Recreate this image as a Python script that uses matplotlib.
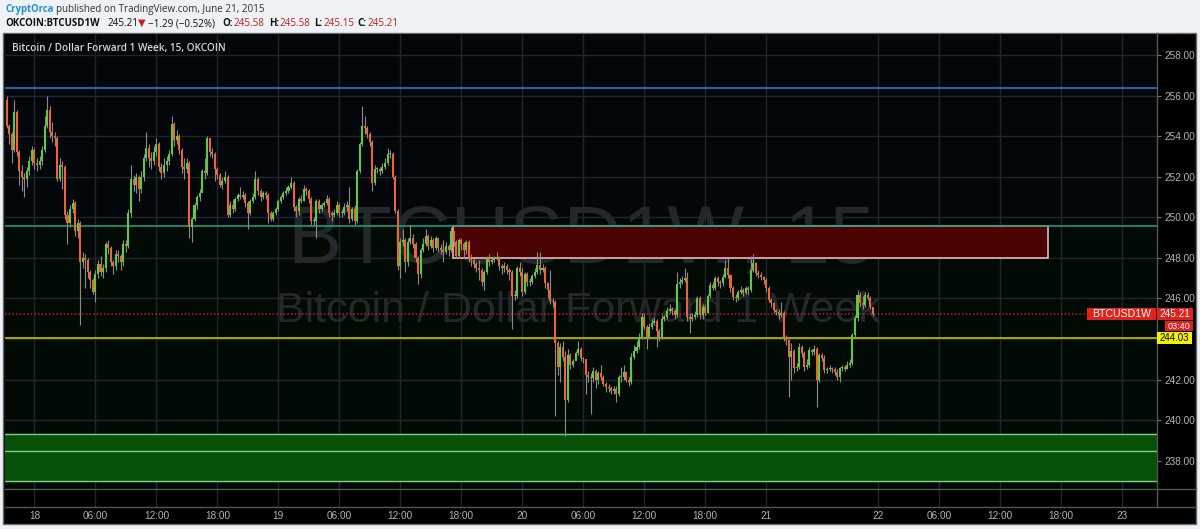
import matplotlib
matplotlib.use("Agg")
import matplotlib.pyplot as plt
from matplotlib.patches import Rectangle
import numpy as np

# ---------------- data ----------------
first_bar = -11            # 15-minute bars counted from June 18, 00:00
first_open = 255.8
closes = [
    254.5, 254.1, 253.3, 255.2, 253.2, 252.3, 252.0, 251.9, 252.3, 252.8,
    253.3, 252.7, 252.6, 252.8, 253.3, 254.5, 255.3, 254.2, 254.0, 253.9,
    251.9, 252.6, 252.5, 250.1, 249.7, 250.4, 250.7, 249.3, 249.7, 247.8,
    248.0, 247.9, 247.3, 246.9, 246.3, 247.2, 247.7, 247.3, 247.5, 248.7,
    248.5, 247.8, 247.6, 248.2, 248.1, 247.8, 248.7, 248.6, 250.2, 251.9,
    251.6, 252.0, 251.4, 252.0, 252.9, 253.4, 252.9, 252.8, 253.2, 253.6,
    252.5, 252.2, 252.6, 252.8, 253.1, 254.6, 253.8, 254.0, 253.3, 252.5,
    252.4, 252.7, 249.5, 249.9, 250.6, 251.0, 251.2, 252.3, 252.2, 253.9,
    253.2, 253.1, 252.4, 252.1, 251.6, 251.8, 252.0, 250.1, 250.6, 250.4,
    250.9, 251.1, 251.0, 251.1, 250.7, 250.2, 250.8, 251.0, 251.9, 251.3,
    251.0, 251.2, 251.1, 250.2, 249.9, 250.2, 250.4, 250.8, 251.0, 251.2,
    251.3, 251.5, 251.7, 250.5, 250.3, 250.9, 250.8, 251.4, 251.3, 250.9,
    249.8, 249.8, 250.8, 250.4, 250.6, 250.7, 250.9, 250.2, 250.1, 250.2,
    250.6, 250.2, 250.2, 250.5, 250.6, 249.9, 250.4, 249.8, 252.3, 253.6,
    254.5, 254.4, 254.1, 253.7, 251.7, 252.4, 252.4, 252.3, 252.5, 252.7,
    253.1, 253.1, 252.0, 250.3, 247.6, 248.8, 248.9, 247.8, 248.8, 249.0,
    248.7, 248.0, 247.2, 248.4, 248.7, 249.1, 248.6, 248.9, 248.5, 249.0,
    248.5, 248.4, 248.3, 248.6, 248.4, 249.3, 248.8, 248.1, 248.9, 248.7,
    248.4, 248.8, 248.0, 247.9, 247.7, 247.5, 247.4, 246.8, 247.3, 248.0,
    247.8, 247.9, 248.0, 248.0, 247.6, 247.5, 247.6, 247.4, 247.3, 246.1,
    246.1, 247.5, 247.3, 246.3, 247.2, 246.8, 246.8, 247.1, 247.3, 247.65,
    247.4, 247.5, 246.75, 246.4, 245.85, 245.8, 243.8, 242.6, 243.6, 243.1,
    241.0, 243.2, 242.7, 242.9, 243.3, 243.5, 243.05, 243.0, 242.2, 242.1,
    242.06, 242.4, 242.0, 242.3, 242.14, 241.8, 241.65, 241.6, 241.45, 241.55,
    241.3, 242.14, 242.1, 242.35, 242.0, 241.9, 243.1, 243.4, 243.6, 244.1,
    245.1, 244.6, 244.1, 244.6, 244.8, 244.9, 244.4, 244.1, 245.0, 245.1,
    245.4, 245.5, 245.4, 245.2, 246.7, 246.8, 246.9, 247.0, 245.1, 245.0,
    245.1, 245.2, 246.0, 245.2, 245.6, 245.3, 246.1, 246.66, 246.5, 247.0,
    246.8, 246.74, 247.07, 247.5, 247.15, 246.5, 246.09, 246.0, 246.33, 246.41,
    246.25, 246.5, 246.4, 247.4, 247.73, 247.24, 247.15, 247.07, 246.91, 246.5,
    245.92, 245.75, 245.43, 245.35, 245.2, 245.3, 244.11, 243.95, 243.13, 243.4,
    242.55, 242.6, 243.62, 243.3, 242.63, 242.7, 243.46, 243.35, 243.5, 241.98,
    243.21, 243.05, 242.47, 242.5, 242.55, 242.5, 242.39, 242.14, 242.55, 242.6,
    242.5, 242.72, 242.8, 244.2, 245.02, 246.17, 245.76, 245.67, 246.17, 246.0,
    245.58, 245.21,
]
highs = [
    256.0, 254.6, 254.2, 255.8, 255.3, 253.3, 252.6, 252.2, 252.5, 253.0,
    253.5, 253.4, 252.9, 253.0, 253.5, 255.0, 256.0, 255.5, 254.7, 254.2,
    254.0, 252.9, 252.8, 252.6, 250.3, 250.6, 250.9, 250.8, 249.9, 249.8,
    248.3, 248.2, 248.0, 247.4, 247.0, 247.4, 247.9, 248.1, 247.7, 248.8,
    248.9, 248.6, 247.9, 248.4, 248.4, 248.2, 248.9, 248.9, 250.4, 252.6,
    252.1, 252.2, 252.1, 252.3, 253.1, 254.2, 253.6, 253.2, 253.5, 253.9,
    253.7, 252.7, 252.9, 253.0, 253.3, 255.0, 254.7, 254.3, 254.1, 253.4,
    252.9, 252.9, 252.8, 250.0, 250.7, 251.1, 251.4, 252.4, 252.9, 254.0,
    253.9, 253.4, 253.2, 252.5, 252.2, 252.0, 252.3, 252.1, 250.8, 250.9,
    251.0, 251.2, 251.5, 251.3, 251.2, 250.8, 250.9, 251.2, 252.3, 252.0,
    251.4, 251.3, 251.3, 251.2, 250.3, 250.3, 250.5, 250.9, 251.1, 251.3,
    251.5, 251.6, 252.0, 251.8, 250.6, 251.0, 251.1, 251.6, 251.5, 251.4,
    251.0, 250.0, 250.9, 250.9, 250.7, 250.8, 251.1, 251.0, 250.3, 250.4,
    250.8, 250.7, 250.4, 250.7, 250.8, 251.5, 250.5, 250.6, 252.4, 253.7,
    255.5, 255.0, 254.5, 254.2, 253.8, 252.6, 252.5, 252.5, 252.7, 252.9,
    253.4, 253.3, 253.2, 252.1, 250.4, 249.0, 249.4, 249.0, 249.0, 249.6,
    249.2, 248.8, 248.1, 248.5, 249.0, 249.4, 249.2, 249.1, 249.0, 249.1,
    249.0, 248.7, 248.9, 248.8, 248.7, 249.5, 249.3, 248.9, 249.0, 249.0,
    248.8, 248.9, 248.9, 248.2, 248.0, 247.8, 247.9, 247.5, 247.4, 248.1,
    248.2, 248.0, 248.1, 248.3, 248.1, 247.7, 247.8, 247.7, 247.5, 247.4,
    246.4, 247.6, 247.8, 247.5, 247.3, 247.3, 247.0, 247.2, 247.5, 248.3,
    248.3, 247.7, 247.6, 246.8, 247.4, 246.0, 245.9, 243.9, 243.8, 243.9,
    243.4, 243.5, 243.3, 243.0, 243.4, 243.9, 243.6, 243.1, 243.0, 242.4,
    242.3, 242.6, 242.5, 242.4, 242.7, 242.2, 241.9, 241.8, 241.7, 241.7,
    241.7, 242.2, 242.6, 242.7, 242.4, 242.1, 243.3, 243.7, 243.9, 244.3,
    245.3, 245.3, 244.7, 244.8, 245.0, 245.1, 245.0, 244.5, 245.2, 245.2,
    245.6, 245.7, 245.6, 245.5, 247.3, 247.0, 247.1, 247.5, 247.3, 245.3,
    245.3, 245.4, 246.1, 246.1, 245.7, 245.7, 246.2, 246.8, 246.8, 247.1,
    247.1, 246.9, 247.2, 247.9, 248.0, 247.2, 246.6, 246.2, 246.4, 246.6,
    246.5, 246.6, 246.6, 248.1, 248.2, 247.8, 247.4, 247.3, 247.1, 247.0,
    246.6, 246.0, 245.8, 245.5, 245.5, 245.8, 245.4, 244.2, 244.0, 243.8,
    243.5, 242.8, 243.8, 243.7, 243.4, 243.0, 243.6, 243.5, 243.7, 243.6,
    243.3, 243.3, 243.2, 242.6, 242.7, 242.6, 242.6, 242.5, 242.6, 242.7,
    242.7, 242.9, 243.0, 244.3, 245.2, 246.4, 246.3, 246.1, 246.3, 246.3,
    246.1, 245.58,
]
lows = [
    254.4, 253.6, 252.7, 253.2, 253.0, 251.6, 251.3, 251.0, 251.5, 252.1,
    252.6, 252.4, 252.3, 252.4, 252.6, 253.2, 254.4, 253.9, 253.7, 253.5,
    251.8, 251.8, 251.4, 249.9, 248.7, 249.5, 250.2, 249.1, 249.0, 244.7,
    247.5, 246.5, 247.0, 246.5, 246.2, 245.8, 247.0, 247.1, 247.0, 247.3,
    248.2, 247.6, 247.2, 247.4, 247.8, 247.4, 247.6, 248.3, 248.5, 250.0,
    251.3, 251.2, 250.8, 251.2, 251.8, 252.8, 252.5, 252.4, 252.6, 253.0,
    252.3, 251.9, 252.0, 252.3, 252.6, 253.0, 253.5, 253.6, 253.1, 252.2,
    251.9, 252.2, 249.0, 248.8, 249.8, 250.4, 250.8, 251.3, 251.9, 252.1,
    253.0, 252.9, 251.8, 251.9, 251.5, 251.4, 251.7, 250.0, 250.0, 250.2,
    250.3, 250.8, 250.9, 250.9, 250.5, 249.4, 250.1, 250.7, 250.9, 251.1,
    250.8, 250.9, 250.9, 249.7, 249.8, 249.8, 250.1, 250.3, 250.7, 250.9,
    251.1, 251.2, 251.4, 250.3, 250.0, 250.1, 250.7, 250.8, 251.1, 250.7,
    249.6, 249.6, 249.0, 250.2, 250.3, 250.5, 250.6, 250.0, 249.8, 250.0,
    250.1, 250.0, 250.0, 250.1, 250.3, 249.7, 249.8, 249.6, 249.7, 252.2,
    253.5, 254.1, 253.9, 253.5, 251.3, 251.6, 252.2, 252.1, 252.2, 252.4,
    252.6, 252.9, 251.9, 250.2, 247.4, 247.0, 248.6, 247.3, 247.6, 248.7,
    248.5, 247.8, 246.7, 247.0, 248.3, 248.6, 248.4, 248.5, 248.3, 248.4,
    248.3, 248.2, 247.8, 248.2, 248.1, 248.3, 248.6, 248.0, 248.0, 248.4,
    248.0, 248.2, 247.8, 247.6, 247.5, 247.3, 246.9, 246.6, 246.4, 247.2,
    247.6, 247.7, 247.8, 247.9, 247.4, 247.2, 247.3, 247.2, 246.9, 244.5,
    245.9, 246.0, 247.1, 246.1, 246.2, 246.6, 246.6, 246.7, 247.0, 247.2,
    247.2, 247.3, 246.5, 246.0, 245.7, 245.6, 240.2, 242.2, 241.9, 242.9,
    239.2, 240.9, 242.5, 242.6, 243.0, 243.2, 242.9, 242.8, 241.3, 241.9,
    240.3, 241.9, 241.6, 241.8, 242.0, 241.7, 241.4, 241.4, 241.3, 241.3,
    240.9, 241.2, 241.9, 242.0, 241.9, 241.7, 241.8, 243.0, 243.3, 243.5,
    244.0, 244.5, 243.5, 244.0, 244.5, 244.7, 243.6, 243.9, 244.0, 244.9,
    245.0, 245.3, 245.2, 245.0, 245.1, 246.5, 246.7, 246.8, 244.9, 244.3,
    244.9, 245.0, 245.1, 245.0, 245.0, 245.2, 245.3, 246.0, 246.4, 246.4,
    246.6, 246.5, 246.6, 247.0, 247.0, 246.3, 245.9, 245.8, 245.9, 246.2,
    246.1, 246.2, 246.2, 246.3, 247.3, 247.1, 247.0, 246.9, 246.7, 246.3,
    245.8, 245.6, 245.3, 245.2, 245.0, 245.1, 243.9, 243.7, 241.15, 242.0,
    242.3, 242.4, 242.5, 243.1, 242.4, 242.5, 242.6, 243.2, 243.2, 240.66,
    241.9, 242.9, 242.3, 242.3, 242.4, 242.3, 242.2, 242.0, 241.9, 242.4,
    242.4, 242.5, 242.6, 242.7, 244.1, 244.9, 245.6, 245.5, 245.6, 245.9,
    245.5, 245.15,
]

price_ticks = [238, 240, 242, 244, 246, 248, 250, 252, 254, 256, 258]
time_labels = ["18", "06:00", "12:00", "18:00", "19", "06:00", "12:00", "18:00",
               "20", "06:00", "12:00", "18:00", "21", "22", "06:00", "12:00",
               "18:00", "23"]
time_label_bars = [0, 24, 48, 72, 96, 120, 144, 168, 192, 216, 240, 264, 288,
                   332, 356, 380, 404, 428]

blue_level = 256.37
teal_level = 249.57
last_price = 245.21
yellow_level = 244.03
resist_bars = (164.8, 399.0)
resist_range = (248.0, 249.57)
support_range = (237.0, 239.3)
support_mid = 238.45

# ---------------- layout ----------------
W, H = 1200, 529
fig = plt.figure(figsize=(W / 100, H / 100), dpi=100)
fig.patch.set_facecolor("#eef1f5")
AX_FONT = ["Liberation Sans", "DejaVu Sans"]
HD_FONT = ["Open Sans", "DejaVu Sans"]


def fx(x):
    return x / W


def fy(y):
    return 1 - y / H


def px_axes(l, t, r, b):
    return fig.add_axes([l / W, 1 - b / H, (r - l) / W, (b - t) / H])


def fig_rect(l, t, r, b, fc, ec="none", lw=0, z=1):
    fig.add_artist(Rectangle((fx(l), fy(b)), (r - l) / W, (b - t) / H,
                             transform=fig.transFigure, facecolor=fc,
                             edgecolor=ec, linewidth=lw, zorder=z))


# outer dark panel
fig_rect(3, 33, 1196, 524, "#000000", ec="#6a6d70", lw=1.0, z=-5)

PL, PT, PR, PB = 5, 34, 1157, 489
XMIN, XMAX = -11.6, 441.9
YMIN, YMAX = 236.6, 259.04

ax = px_axes(PL, PT, PR, PB)
ax.set_facecolor("#020406")
ax.set_xlim(XMIN, XMAX)
ax.set_ylim(YMIN, YMAX)
for s in ax.spines.values():
    s.set_visible(False)

# tinted background zones
ax.axhspan(YMIN, teal_level, color="#020a06", zorder=0)
ax.axhspan(teal_level, YMAX, color="#03070b", zorder=0)

grid_c = "#22262a"
ax.hlines(price_ticks, XMIN, XMAX, color=grid_c, lw=1.0, zorder=0.5)
ax.vlines(time_label_bars, YMIN, YMAX, color=grid_c, lw=1.0, zorder=0.5)

# watermarks
ax.text(fx(581), fy(262), "BTCUSD1W, 15", transform=fig.transFigure,
        ha="center", va="baseline", fontsize=58.5, color="#25282a",
        family=AX_FONT, zorder=0.6)
ax.text(fx(578), fy(322), "Bitcoin / Dollar Forward 1 Week",
        transform=fig.transFigure, ha="center", va="baseline",
        fontsize=31, color="#25282a", family=AX_FONT, zorder=0.6)

# drawings
ax.add_patch(Rectangle((resist_bars[0], resist_range[0]),
                       resist_bars[1] - resist_bars[0],
                       resist_range[1] - resist_range[0],
                       facecolor="#4c0303", edgecolor="#e6b8b8", lw=1.2,
                       zorder=1))
ax.axhspan(support_range[0], support_range[1], color="#07500a", zorder=1)
for lv in (support_range[0], support_mid, support_range[1]):
    ax.axhline(lv, color="#86c986", lw=1.0, zorder=1.1)
ax.axhline(blue_level, color="#2f78b8", lw=1.2, zorder=1.2)
ax.axhline(teal_level, color="#1c9c78", lw=1.2, zorder=1.2)
ax.axhline(yellow_level, color="#b5b300", lw=1.3, zorder=1.2)
ax.axhline(last_price, color="#c4201c", lw=1.1, ls=(0, (1, 1.4)), zorder=1.2)

# candles
n = len(closes)
xs = first_bar + np.arange(n)
c = np.array(closes)
o = np.array([first_open] + closes[:-1])
hi = np.array(highs)
lo = np.array(lows)
up = c >= o
ax.vlines(xs, lo, hi, color="#8c8c8c", lw=0.8, zorder=2)
body_lo = np.minimum(o, c)
body_h = np.maximum(np.abs(c - o), 0.05)
ax.bar(xs[up], body_h[up], bottom=body_lo[up], width=0.8, color="#56cf3a",
       linewidth=0, zorder=3)
ax.bar(xs[~up], body_h[~up], bottom=body_lo[~up], width=0.8,
       color="#f2632f", linewidth=0, zorder=3)

# price axis (the 244.00 label sits under the yellow marker in the reference)
ax.yaxis.tick_right()
ax.set_yticks(price_ticks)
ax.set_yticklabels(["" if p == 244 else f"{p:.2f}" for p in price_ticks],
                   family=AX_FONT)
ax.tick_params(axis="y", length=3, width=0.8, color="#777777",
               labelcolor="#b4b4b4", labelsize=7.2, pad=2)
ax.set_xticks([])

# title inside chart
ax.text(fx(12), fy(48), "Bitcoin / Dollar Forward 1 Week, 15, OKCOIN",
        transform=fig.transFigure, ha="left", va="center", fontsize=7.2,
        color="#d6d6d6", family=HD_FONT, fontweight="semibold", zorder=5)

# lower (empty) pane + time axis
ax2 = px_axes(PL, PB, PR, 507)
ax2.set_facecolor("#000000")
ax2.set_xlim(XMIN, XMAX)
ax2.set_ylim(0, 1)
ax2.vlines(time_label_bars, 0, 1, color=grid_c, lw=1.0)
for s in ax2.spines.values():
    s.set_visible(False)
ax2.set_yticks([])
ax2.set_xticks(time_label_bars)
ax2.set_xticklabels(time_labels, family=AX_FONT)
ax2.tick_params(axis="x", length=0, labelcolor="#b4b4b4", labelsize=7.2,
                pad=3.2)

# separators
for yy in (PB, 507):
    fig.add_artist(plt.Line2D([fx(PL), fx(1196)], [fy(yy), fy(yy)],
                              transform=fig.transFigure, color="#555555",
                              lw=1.0, zorder=4))
fig.add_artist(plt.Line2D([fx(PR), fx(PR)], [fy(33), fy(507)],
                          transform=fig.transFigure, color="#555555", lw=1.0,
                          zorder=4))


# price-axis markers
def marker(l, t, r, b, fc, txt, tc, size=7.2):
    fig_rect(l, t, r, b, fc, z=6)
    fig.text(fx((l + r) / 2), fy((t + b) / 2 + 0.3), txt, ha="center",
             va="center", fontsize=size, color=tc, family=AX_FONT, zorder=7)


marker(1087, 308, 1156, 320, "#e0231d", "BTCUSD1W", "#ffffff", 7.6)
marker(1157, 308, 1193, 320, "#e0231d", f"{last_price:.2f}", "#ffffff")
marker(1165, 321, 1193, 331, "#e0231d", "03:40", "#ffffff", 6.6)
marker(1157, 332, 1192, 344, "#f2f200", f"{yellow_level:.2f}", "#000000", 6.9)

# header: pieces placed at the x positions
dark = "#111111"
red = "#c8201c"
header = [
    ("CryptOrca", 5, 9.5, "#2a8fd6", "bold", 6.9),
    ("published on TradingView.com, June 21, 2015", 56, 9.5, "#333333", "normal", 7.1),
    ("OKCOIN:BTCUSD1W", 5, 23.5, dark, "bold", 7.0),
    ("245.21", 107, 23.5, dark, "normal", 7.1),
    ("\u25bc", 137.5, 23.5, red, "normal", 7.1),
    ("\u22121.29 (\u22120.52%)", 148, 23.5, dark, "normal", 7.1),
    ("O:", 222, 23.5, dark, "bold", 7.0),
    ("245.58", 234, 23.5, red, "normal", 7.1),
    ("H:", 269, 23.5, dark, "bold", 7.0),
    ("245.58", 280, 23.5, red, "normal", 7.1),
    ("L:", 314, 23.5, dark, "bold", 7.0),
    ("245.15", 323, 23.5, red, "normal", 7.1),
    ("C:", 357, 23.5, dark, "bold", 7.0),
    ("245.21", 367, 23.5, red, "normal", 7.1),
]
for s, x, y, col, wt, sz in header:
    fig.text(fx(x), fy(y), s, color=col, fontsize=sz, fontweight=wt,
             ha="left", va="center", family=HD_FONT)

fig.savefig("out.png", dpi=100, facecolor=fig.get_facecolor())
